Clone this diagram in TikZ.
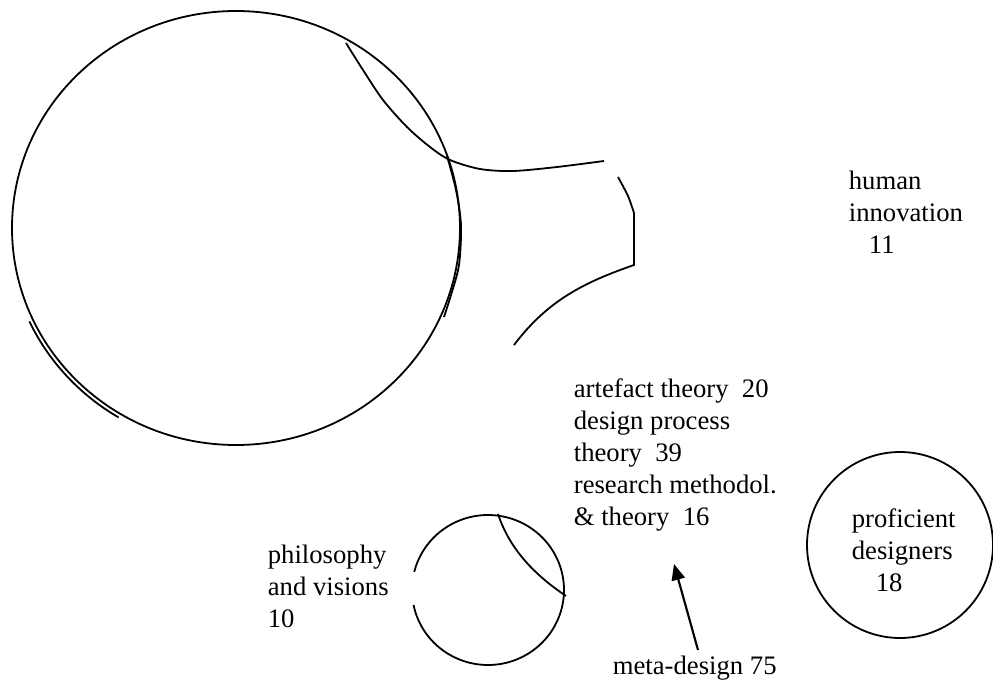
\documentclass[tikz,border=0pt]{standalone}
\usepackage{fontspec}
\setmainfont{Liberation Serif}
\usetikzlibrary{arrows.meta}

\tikzset{lbl/.style={align=left, anchor=base west, inner sep=0pt,
    font=\fontsize{20}{24}\selectfont}}

\begin{document}
\begin{tikzpicture} [x=0.75pt,y=-0.75pt,line width=1.35pt]

\useasboundingbox (0,0) rectangle (993,688);
%\draw [step=100, dotted, thin] (0,0) grid (993,688);

% big circle
\draw (236,228) ellipse [x radius=224, y radius=217];
\draw plot [smooth] coordinates {(447,156) (456,190) (461,225) (459,265) (451,295) (444,317)};
\draw plot [domain=121:155, smooth, variable=\t] ({236+228*cos(\t)}, {228+221*sin(\t)});
\draw plot [smooth] coordinates {(346,43) (363,70) (383,100) (407,127) (430,147) (450,160)
  (480,169) (513,171) (557,167) (604,161)};
\draw plot [smooth] coordinates {(618,177) (628,196) (634,213)} -- (634,265)
  .. controls (585,282) and (548,300) .. (514,345);

% small circle
\draw plot [domain=194:528.5, smooth, samples=80, variable=\t] ({488+76*cos(\t)}, {590+75*sin(\t)});
\draw (498,514) .. controls (510,550) and (535,575) .. (566,596);

% proficient circle
\draw (900,545) circle [radius=93];

% labels (placed at the baseline of the last line)
\node [lbl] (human) at (848,253) {human\\innovation\\\hspace*{15pt}11};
\node [lbl] (theory) at (573,525) {artefact theory\ \ 20\\design process\\theory\ \ 39\\research methodol.\\\& theory\ \ 16};
\node [lbl] (philo) at (267,627) {philosophy\\and visions\\10};
\node [lbl] (prof) at (851,591) {proficient\\designers\\\hspace*{18pt}18};
\node [lbl] (meta) at (612,674) {meta-design 75};

\coordinate (tail) at (698,650);
\coordinate (tip) at (674,564);
\draw [line width=1.6pt, -{Triangle[length=12pt,width=10pt]}] (tail) -- (tip);

\end{tikzpicture}
\end{document}
